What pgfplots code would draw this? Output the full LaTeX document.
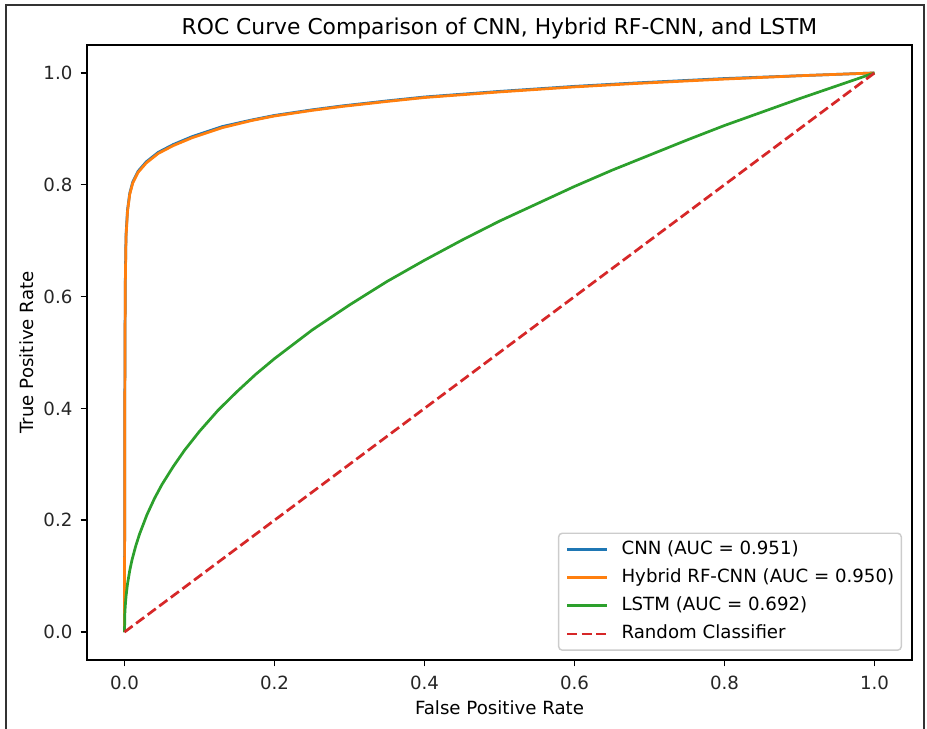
\documentclass[border=0pt]{standalone}
\usepackage{fontspec}
\setmainfont{DejaVu Sans}
\usepackage{pgfplots}
\pgfplotsset{compat=1.18}

\definecolor{tabblue}{HTML}{1F77B4}
\definecolor{taborange}{HTML}{FF7F0E}
\definecolor{tabgreen}{HTML}{2CA02C}
\definecolor{tabred}{HTML}{D62728}

% one pixel of the reference
\newlength\pu
\setlength\pu{0.55pt}

\begin{document}
\begin{tikzpicture}
\useasboundingbox (0,0) rectangle (927\pu,729\pu);
% screenshot frame
\draw[line width=1.1pt, black!80] (5.7\pu,0) -- (5.7\pu,724.3\pu) -- (924\pu,724.3\pu) -- (924\pu,0);

\begin{axis}[
    at={(87\pu,69\pu)}, anchor=south west,
    scale only axis,
    width=825\pu, height=615\pu,
    xmin=-0.05, xmax=1.05, ymin=-0.05, ymax=1.05,
    xtick={0,0.2,0.4,0.6,0.8,1.0},
    ytick={0,0.2,0.4,0.6,0.8,1.0},
    xtick pos=bottom, ytick pos=left,
    tick align=outside,
    major tick length=3.5pt,
    tick style={black, line width=0.8pt},
    axis line style={line width=0.8pt},
    /pgf/number format/fixed,
    /pgf/number format/fixed zerofill,
    /pgf/number format/precision=1,
    /pgf/number format/assume math mode=true,
    tick label style={font=\fontsize{10}{12}\selectfont, text=black!85},
    xticklabel style={yshift=-2pt},
    yticklabel style={xshift=-1pt},
    legend image code/.code={\draw[#1] (0pt,0pt) -- (22pt,0pt);},
    legend cell align=left,
    legend style={at={(1,0)}, anchor=south east, xshift=-5.5pt, yshift=5pt,
      draw=black!20, line width=0.8pt, rounded corners=2pt, fill=white,
      font=\fontsize{10}{12}\selectfont,
      inner xsep=3.9pt, inner ysep=3.9pt, row sep=5.5pt, column sep=7.2pt,
      nodes={inner sep=0pt, text height=7.6pt, text depth=2.4pt}},
    every axis plot/.append style={line width=1.5pt, line join=round},
]
\addplot[tabblue] coordinates {
  (0,0)(0.0005,0.45)(0.001,0.62)(0.002,0.71)(0.004,0.755)(0.007,0.785)
  (0.011,0.805)(0.018,0.824)(0.029,0.841)(0.045,0.858)(0.065,0.872)
  (0.09,0.886)(0.13,0.904)(0.17,0.916)(0.2,0.924)(0.25,0.934)(0.29,0.941)
  (0.35,0.950)(0.4,0.957)(0.5,0.967)(0.6,0.976)(0.68,0.982)(0.8,0.990)
  (0.9,0.995)(1,1)};
\addlegendentry{CNN (AUC = 0.951)}

\addplot[taborange] coordinates {
  (0,0)(0.0005,0.445)(0.001,0.615)(0.002,0.705)(0.004,0.752)(0.007,0.783)
  (0.011,0.803)(0.018,0.822)(0.029,0.839)(0.045,0.856)(0.065,0.870)
  (0.09,0.884)(0.13,0.902)(0.17,0.915)(0.2,0.923)(0.25,0.933)(0.29,0.940)
  (0.35,0.949)(0.4,0.956)(0.5,0.966)(0.6,0.975)(0.68,0.981)(0.8,0.989)
  (0.9,0.995)(1,1)};
\addlegendentry{Hybrid RF-CNN (AUC = 0.950)}

\addplot[tabgreen] coordinates {
  (0,0)(0.0005,0.034)(0.001,0.046)(0.002,0.063)(0.004,0.086)(0.007,0.110)
  (0.01,0.129)(0.015,0.154)(0.02,0.175)(0.03,0.210)(0.04,0.239)
  (0.05,0.264)(0.065,0.296)(0.08,0.325)(0.1,0.359)(0.125,0.397)
  (0.15,0.430)(0.175,0.461)(0.2,0.489)(0.25,0.540)(0.3,0.585)
  (0.35,0.627)(0.4,0.665)(0.45,0.701)(0.5,0.735)(0.55,0.766)
  (0.6,0.797)(0.65,0.826)(0.7,0.853)(0.75,0.880)(0.8,0.906)
  (0.85,0.930)(0.9,0.954)(0.95,0.977)(1,1)};
\addlegendentry{LSTM (AUC = 0.692)}

\addplot[tabred, dash pattern=on 5.55pt off 2.4pt] coordinates {(0,0)(1,1)};
\addlegendentry{Random Classifier}
\end{axis}

\node[anchor=base, font=\fontsize{12}{14}\selectfont] at (499.5\pu,694\pu) {ROC Curve Comparison of CNN, Hybrid RF-CNN, and LSTM};
\node[anchor=base, font=\fontsize{10}{12}\selectfont] at (499.5\pu,14.4\pu) {False Positive Rate};
\node[anchor=base, rotate=90, font=\fontsize{10}{12}\selectfont] at (33.6\pu,376.5\pu) {True Positive Rate};
\end{tikzpicture}
\end{document}
